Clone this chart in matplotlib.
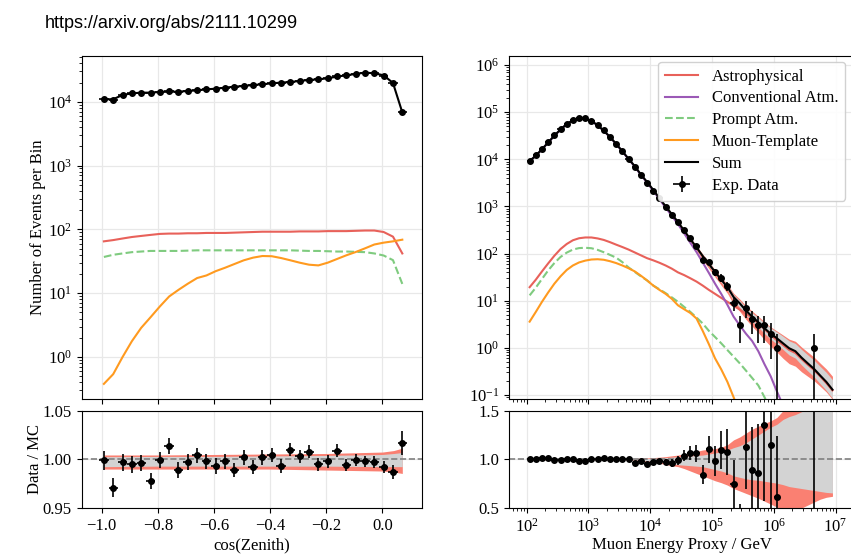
import numpy as np
import matplotlib
matplotlib.use("Agg")
import matplotlib.pyplot as plt
from matplotlib import font_manager
from matplotlib.ticker import FormatStrFormatter

# ---------------- data: left (zenith) ----------------
cos_zenith = np.linspace(-0.992, 0.071, 33)   # bin centres
cos_half_width = 0.0166

left_sum = [10900, 10950, 12740, 13530, 13870, 13870, 14200, 14370, 14370, 14730,
            15080, 15620, 16020, 16610, 17220, 17640, 18290, 18740, 19430, 19910,
            20390, 21140, 21920, 22460, 23290, 24730, 25950, 27230, 28580, 27880,
            25950, 19660, 6810]
left_ratio = [0.999, 0.971, 0.997, 0.995, 0.996, 0.978, 0.999, 1.014, 0.989, 0.997,
              1.004, 0.998, 0.993, 0.998, 0.989, 1.002, 0.992, 1.002, 1.004, 0.993,
              1.010, 1.003, 1.008, 0.995, 0.998, 1.009, 0.994, 0.999, 0.998, 0.997,
              0.992, 0.987, 1.017]
left_astro = [65, 68, 72, 76, 79, 82, 85, 86, 86, 87, 87, 88, 88, 88, 89, 90, 91, 92,
              92, 92, 92, 93, 93, 93, 94, 94, 94, 95, 96, 96, 91, 77, 42]
left_prompt = [37, 40, 42, 44, 45, 46, 46, 46, 46, 46.5, 47, 47, 47, 47, 47, 47, 47,
               47, 47, 47, 47, 46.5, 46, 46, 45.5, 45, 45, 44.5, 44, 42, 39, 33, 14]
left_muon = [0.38, 0.54, 1.0, 1.77, 2.87, 4.2, 6.2, 8.9, 11.3, 14.1, 17.3, 19.0, 22.2,
             25.1, 28.7, 32.8, 36.1, 38.3, 38.0, 35.6, 32.8, 30.1, 28.0, 27.3, 30.1,
             34.4, 39.3, 44.2, 50.5, 58, 62, 65, 69]

# ratio-panel uncertainty band (left)
left_band_x = [-0.992, -0.8, -0.6, -0.4, -0.2, 0.0, 0.04, 0.071]
left_red_hi = [1.0045, 1.0045, 1.005, 1.0055, 1.006, 1.0075, 1.009, 1.0115]
left_grey_hi = [1.0027, 1.003, 1.003, 1.0035, 1.004, 1.005, 1.006, 1.007]
left_grey_lo = [0.9925, 0.993, 0.993, 0.993, 0.993, 0.9925, 0.9925, 0.9925]
left_red_lo = [0.990, 0.990, 0.990, 0.990, 0.989, 0.988, 0.987, 0.9855]

# ---------------- data: right (energy) ----------------
log_e = np.round(np.arange(2.05, 7.0, 0.1), 2)   # 50 bin centres in log10(E/GeV)

right_sum = [9200, 12000, 16500, 22800, 32000, 43000, 56500, 67500, 73000, 73000,
             65500, 53000, 40500, 30000, 21300, 14900, 10300, 7200, 4780, 3320,
             2250, 1510, 1010, 690, 468, 308, 203, 136, 89, 60,
             41, 28, 19.5, 12.0, 8.8, 6.2, 4.6, 3.5, 2.6, 2.0,
             1.6, 1.25, 0.98, 0.85, 0.62, 0.47, 0.36, 0.26, 0.19, 0.13]
right_astro = [19.4, 28, 42, 62, 90, 125, 160, 192, 212, 220,
               220, 210, 195, 175, 155, 138, 122, 106, 92, 80,
               72, 64, 56, 48, 40, 35, 30, 25.5, 21, 17,
               14, 11.5, 9.5, 7.8, 6.5, 5.3, 4.4, 3.3, 2.5, 1.9,
               1.45, 1.15, 0.9, 0.78, 0.58, 0.44, 0.34, 0.25, 0.18, 0.125]
right_conv = [9150, 11950, 16400, 22650, 31800, 42700, 56100, 67000, 72500, 72500,
              65000, 52600, 40100, 29700, 21000, 14700, 10100, 7050, 4650, 3210,
              2160, 1430, 945, 635, 422, 270, 170, 108, 65, 39,
              23, 14, 8.2, 4.6, 3.0, 2.0, 1.4, 0.85, 0.45, 0.25,
              0.12, 0.06, 0.03, 0.015, 0.008, 0.004, 0.002, 0.001, 0.0005, 0.0003]
right_prompt = [13, 19, 29, 44, 63, 85, 105, 122, 131, 133,
                130, 120, 107, 94, 82, 66, 51, 41, 33, 27,
                21, 17.5, 14.5, 11.8, 9.5, 7.4, 5.8, 4.4, 3.3, 2.3,
                1.7, 1.25, 0.9, 0.65, 0.47, 0.33, 0.23, 0.16, 0.09, 0.05,
                0.03, 0.02, 0.012, 0.008, 0.005, 0.003, 0.002, 0.001, 0.0008, 0.0005]
right_muon = [3.6, 5.8, 9.5, 15, 23, 33, 45, 56, 65, 71,
              75, 76, 74, 69, 63, 56, 49, 42, 34, 27,
              21, 17, 14, 11, 8.0, 6.6, 5.5, 4.2, 2.3, 1.2,
              0.6, 0.35, 0.19, 0.09, 0.04, 0.02, 0.01, 0.005, 0.003, 0.002,
              0.001, 0.001, 0.001, 0.001, 0.001, 0.001, 0.001, 0.001, 0.001, 0.001]

# relative MC uncertainty bands (ratio to best fit), one value per bin
right_grey_hi = [1.004] * 17 + [1.006, 1.007, 1.008, 1.01, 1.013, 1.017, 1.022, 1.027,
                 1.032, 1.036, 1.04, 1.044, 1.055, 1.065, 1.078, 1.095, 1.12, 1.14,
                 1.17, 1.21, 1.25, 1.29, 1.33, 1.36, 1.41, 1.44, 1.46, 1.49, 1.51,
                 1.53, 1.56, 1.59, 1.62]
right_grey_lo = [0.996] * 17 + [0.994, 0.99, 0.985, 0.98, 0.975, 0.965, 0.955, 0.945,
                 0.94, 0.935, 0.93, 0.925, 0.91, 0.895, 0.88, 0.86, 0.83, 0.815,
                 0.80, 0.79, 0.785, 0.775, 0.765, 0.755, 0.74, 0.72, 0.71, 0.70,
                 0.69, 0.68, 0.67, 0.66, 0.655]
right_red_hi = [1.006] * 17 + [1.01, 1.012, 1.015, 1.018, 1.022, 1.028, 1.036, 1.044,
                1.055, 1.068, 1.082, 1.096, 1.105, 1.11, 1.125, 1.15, 1.2, 1.23,
                1.27, 1.31, 1.34, 1.37, 1.395, 1.43, 1.5, 1.56, 1.62, 1.68, 1.73,
                1.78, 1.83, 1.88, 1.92]
right_red_lo = [0.994] * 17 + [0.99, 0.985, 0.978, 0.97, 0.96, 0.948, 0.935, 0.925,
               0.905, 0.88, 0.855, 0.83, 0.805, 0.78, 0.76, 0.735, 0.70, 0.675,
               0.65, 0.625, 0.60, 0.57, 0.54, 0.51, 0.48, 0.47, 0.48, 0.50, 0.53,
               0.56, 0.59, 0.61, 0.62]

# experimental data (bins with events)
data_log_e = list(log_e[:41]) + [6.65]
data_counts = [9160, 12080, 16750, 23200, 32100, 43100, 56800, 67900, 73700, 73700,
               65800, 53200, 41000, 30100, 21400, 14900, 10300, 6930, 4700, 3180,
               2180, 1480, 982, 664, 464, 319, 216, 144, 75, 66,
               40, 31, 21, 9, 3, 7, 4, 3, 3, 2,
               1, 1]
data_ratio = [1.003, 1.0, 1.01, 1.017, 0.993, 0.993, 1.003, 1.0, 0.983, 0.986,
              1.003, 1.0, 1.01, 1.003, 1.003, 1.0, 1.0, 0.959, 0.983, 0.956,
              0.969, 0.983, 0.973, 0.962, 0.993, 1.038, 1.068, 1.061, 0.843, 1.102,
              0.983, 1.096, 1.078, 0.744, 0.34, 1.123, 0.891, 0.863, 1.358, 1.147,
              0.618, 2.8]

# ---------------- style ----------------
C_ASTRO = "#e8615a"
C_CONV = "#9b59b6"
C_PROMPT = "#7fcb7f"
C_MUON = "#ff9a1f"
C_RED_BAND = "#fa8072"
C_GREY_BAND = "#d3d3d3"
GRID = "#e8e8e8"

plt.rcParams["font.family"] = ["Liberation Serif", "DejaVu Serif"]
plt.rcParams["mathtext.fontset"] = "stix"
plt.rcParams["font.size"] = 12

installed = {f.name for f in font_manager.fontManager.ttflist}
url_family = "Liberation Sans Narrow" if "Liberation Sans Narrow" in installed else "Liberation Sans"

fig = plt.figure(figsize=(8.51, 5.55), dpi=100)
ax_lt = fig.add_axes([0.096, 0.281, 0.400, 0.619])
ax_lb = fig.add_axes([0.096, 0.0847, 0.400, 0.1753], sharex=ax_lt)
ax_rt = fig.add_axes([0.598, 0.281, 0.4057, 0.619])
ax_rb = fig.add_axes([0.598, 0.0847, 0.4057, 0.1753], sharex=ax_rt)

for ax in (ax_lt, ax_lb, ax_rt, ax_rb):
    ax.grid(True, color=GRID, lw=0.9)
    ax.set_axisbelow(True)
    ax.tick_params(labelsize=12)

# ---------------- left top ----------------
left_sum = np.array(left_sum)
left_data = left_sum * np.array(left_ratio)
ax_lt.plot(cos_zenith, left_astro, color=C_ASTRO, lw=1.5)
ax_lt.plot(cos_zenith, left_prompt, color=C_PROMPT, lw=1.5, ls="--")
ax_lt.plot(cos_zenith, left_muon, color=C_MUON, lw=1.5)
ax_lt.plot(cos_zenith, left_sum, color="black", lw=1.5)
ax_lt.errorbar(cos_zenith, left_data, yerr=np.sqrt(left_data), xerr=cos_half_width,
               fmt="o", ms=4, color="black", elinewidth=1.2)
ax_lt.set_yscale("log")
ax_lt.set_ylim(0.22, 5.3e4)
ax_lt.set_xlim(-1.071, 0.1415)
ax_lt.set_xticks([-1.0, -0.8, -0.6, -0.4, -0.2, 0.0])
plt.setp(ax_lt.get_xticklabels(), visible=False)

# ---------------- left bottom ----------------
ax_lb.fill_between(left_band_x, left_red_lo, left_red_hi, color=C_RED_BAND, lw=0)
ax_lb.fill_between(left_band_x, left_grey_lo, left_grey_hi, color=C_GREY_BAND, lw=0)
ax_lb.axhline(1.0, color="grey", ls="--", lw=1.2)
ax_lb.errorbar(cos_zenith, left_ratio, yerr=np.array(left_ratio) / np.sqrt(left_data),
               xerr=cos_half_width, fmt="o", ms=4, color="black", elinewidth=1.2)
ax_lb.set_ylim(0.95, 1.05)
ax_lb.set_yticks([0.95, 1.00, 1.05])
ax_lb.yaxis.set_major_formatter(FormatStrFormatter("%.2f"))

# ---------------- right top ----------------
energy = 10 ** log_e
right_sum = np.array(right_sum)
ax_rt.fill_between(energy, right_sum * np.array(right_red_lo),
                   right_sum * np.array(right_red_hi), color=C_RED_BAND, lw=0)
ax_rt.fill_between(energy, right_sum * np.array(right_grey_lo),
                   right_sum * np.array(right_grey_hi), color=C_GREY_BAND, lw=0)
h_astro, = ax_rt.plot(energy, right_astro, color=C_ASTRO, lw=1.5, label="Astrophysical")
h_conv, = ax_rt.plot(energy, right_conv, color=C_CONV, lw=1.5, label="Conventional Atm.")
h_prompt, = ax_rt.plot(energy, right_prompt, color=C_PROMPT, lw=1.5, ls="--", label="Prompt Atm.")
h_muon, = ax_rt.plot(energy, right_muon, color=C_MUON, lw=1.5, label="Muon-Template")
h_sum, = ax_rt.plot(energy, right_sum, color="black", lw=1.5, label="Sum")

data_log_e = np.array(data_log_e)
data_e = 10 ** data_log_e
data_xerr = [data_e - 10 ** (data_log_e - 0.05), 10 ** (data_log_e + 0.05) - data_e]
counts = np.array(data_counts, dtype=float)
h_data = ax_rt.errorbar(data_e, counts, yerr=np.sqrt(counts), xerr=data_xerr,
                        fmt="o", ms=4, color="black", elinewidth=1.2, label="Exp. Data")
ax_rt.set_xscale("log")
ax_rt.set_yscale("log")
ax_rt.set_xlim(51.8, 2.0e7)
ax_rt.set_ylim(0.082, 1.6e6)
plt.setp(ax_rt.get_xticklabels(), visible=False)

leg = ax_rt.legend(handles=[h_astro, h_conv, h_prompt, h_muon, h_sum, h_data],
                   loc="upper right", bbox_to_anchor=(845 / 851, 1 - 62 / 555),
                   bbox_transform=fig.transFigure, borderaxespad=0, fontsize=12,
                   framealpha=0.9, labelspacing=0.35)
leg.get_frame().set_edgecolor("#cccccc")

# ---------------- right bottom ----------------
ax_rb.fill_between(energy, right_red_lo, right_red_hi, color=C_RED_BAND, lw=0)
ax_rb.fill_between(energy, right_grey_lo, right_grey_hi, color=C_GREY_BAND, lw=0)
ax_rb.axhline(1.0, color="grey", ls="--", lw=1.2)
ratio = np.array(data_ratio)
ax_rb.errorbar(data_e, ratio, yerr=ratio / np.sqrt(counts), xerr=data_xerr,
               fmt="o", ms=4, color="black", elinewidth=1.2)
ax_rb.set_ylim(0.5, 1.5)
ax_rb.set_yticks([0.5, 1.0, 1.5])
ax_rb.yaxis.set_major_formatter(FormatStrFormatter("%.1f"))

# ---------------- labels ----------------
fig.text(38 / 851, 1 - 227 / 555, "Number of Events per Bin", rotation=90,
         ha="center", va="center", fontsize=12)
fig.text(35 / 851, 1 - 459 / 555, "Data / MC", rotation=90,
         ha="center", va="center", fontsize=12)
fig.text(252 / 851, 1 - 545 / 555, "cos(Zenith)", ha="center", va="center", fontsize=12)
fig.text(682 / 851, 1 - 545 / 555, "Muon Energy Proxy / GeV", ha="center", va="center",
         fontsize=12)
fig.text(45 / 851, 1 - 28 / 555, "https://arxiv.org/abs/2111.10299",
         family=url_family, fontsize=13, va="baseline", ha="left")

fig.savefig("out.png", dpi=100)
